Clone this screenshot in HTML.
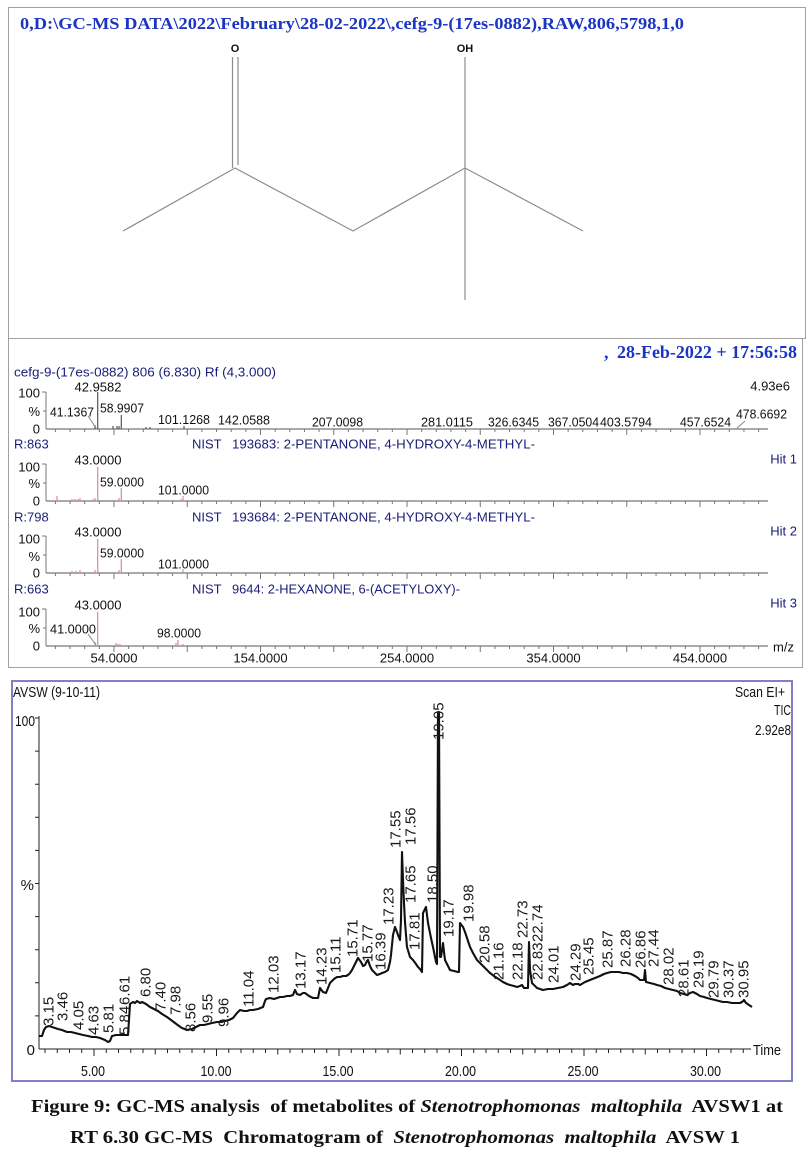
<!DOCTYPE html>
<html><head><meta charset="utf-8"><style>
html,body{margin:0;padding:0;background:#fff}
svg{display:block}
.s{font-family:"Liberation Sans",Arial,sans-serif}
.b{font-family:"Liberation Serif","Times New Roman",serif;font-weight:bold}
</style></head><body>
<svg width="811" height="1154" viewBox="0 0 811 1154" xmlns="http://www.w3.org/2000/svg">
<rect width="811" height="1154" fill="#fff"/>

<!-- ===== Panel 1: structure ===== -->
<rect x="8.5" y="7.5" width="797" height="331" fill="none" stroke="#a0a0a0" stroke-width="1"/>
<text class="b" x="20" y="29" font-size="17" fill="#1a35c4" textLength="664" lengthAdjust="spacingAndGlyphs">0,D:\GC-MS DATA\2022\February\28-02-2022\,cefg-9-(17es-0882),RAW,806,5798,1,0</text>
<g stroke="#8c8c8c" stroke-width="1.2" fill="none">
<line x1="232.5" y1="57" x2="232.5" y2="168"/>
<line x1="238" y1="57" x2="238" y2="165"/>
<polyline points="123,231 235,168 353,231 465,168 583,231"/>
<line x1="465" y1="57" x2="465" y2="300"/>
</g>
<text class="s" x="235" y="52" font-size="11" font-weight="bold" text-anchor="middle" fill="#111">O</text>
<text class="s" x="465" y="52" font-size="11" font-weight="bold" text-anchor="middle" fill="#111">OH</text>

<!-- ===== Panel 2: mass spectra ===== -->
<rect x="8.5" y="338.5" width="794" height="329" fill="none" stroke="#a0a0a0" stroke-width="1"/>
<text class="b" x="604" y="358" font-size="18" fill="#1a35c4">,</text>
<text class="b" x="617" y="358" font-size="18" fill="#1a35c4" textLength="180" lengthAdjust="spacingAndGlyphs">28-Feb-2022 + 17:56:58</text>

<defs>
<path id="tk" d="M55.4 0v3M70.05 0v3M84.7 0v3M99.35 0v3M114 0v6M128.65 0v3M143.3 0v3M157.95 0v3M172.6 0v3M187.25 0v6M201.9 0v3M216.55 0v3M231.2 0v3M245.85 0v3M260.5 0v6M275.15 0v3M289.8 0v3M304.45 0v3M319.1 0v3M333.75 0v6M348.4 0v3M363.05 0v3M377.7 0v3M392.35 0v3M407 0v6M421.65 0v3M436.3 0v3M450.95 0v3M465.6 0v3M480.25 0v6M494.9 0v3M509.55 0v3M524.2 0v3M538.85 0v3M553.5 0v6M568.15 0v3M582.8 0v3M597.45 0v3M612.1 0v3M626.75 0v6M641.4 0v3M656.05 0v3M670.7 0v3M685.35 0v3M700 0v6M714.65 0v3M729.3 0v3M743.95 0v3M758.6 0v3" stroke="#777" stroke-width="1" fill="none"/>
<g id="ax">
<line x1="46" y1="0" x2="768" y2="0" stroke="#777" stroke-width="1.2"/>
<line x1="46" y1="0" x2="46" y2="-37" stroke="#777" stroke-width="1"/>
<line x1="42" y1="-37" x2="46" y2="-37" stroke="#777" stroke-width="1"/>
<line x1="43" y1="-18" x2="46" y2="-18" stroke="#777" stroke-width="1"/>
<use href="#tk"/>
</g>
</defs>

<!-- spectrum 1 -->
<text class="s" x="14" y="376.5" font-size="13" fill="#1c1c78" textLength="262" lengthAdjust="spacingAndGlyphs">cefg-9-(17es-0882) 806 (6.830) Rf (4,3.000)</text>
<use href="#ax" y="429"/>
<g class="s" font-size="13" fill="#111">
<text x="40" y="397.5" text-anchor="end">100</text>
<text x="40" y="416" text-anchor="end">%</text>
<text x="40" y="433.5" text-anchor="end">0</text>
<text x="98" y="391.5" text-anchor="middle">42.9582</text>
<text x="50" y="416.5" textLength="44" lengthAdjust="spacingAndGlyphs">41.1367</text>
<text x="100" y="412.5" textLength="44" lengthAdjust="spacingAndGlyphs">58.9907</text>
<text x="158" y="424" textLength="52" lengthAdjust="spacingAndGlyphs">101.1268</text>
<text x="218" y="424.5" textLength="52" lengthAdjust="spacingAndGlyphs">142.0588</text>
<text x="312" y="426.5" textLength="51" lengthAdjust="spacingAndGlyphs">207.0098</text>
<text x="421" y="426.5" textLength="52" lengthAdjust="spacingAndGlyphs">281.0115</text>
<text x="488" y="426.5" textLength="51" lengthAdjust="spacingAndGlyphs">326.6345</text>
<text x="548" y="426.5" textLength="51" lengthAdjust="spacingAndGlyphs">367.0504</text>
<text x="600" y="426.5" textLength="52" lengthAdjust="spacingAndGlyphs">403.5794</text>
<text x="680" y="426.5" textLength="51" lengthAdjust="spacingAndGlyphs">457.6524</text>
<text x="736" y="418.5" textLength="51" lengthAdjust="spacingAndGlyphs">478.6692</text>
<text x="790" y="390.5" text-anchor="end">4.93e6</text>
</g>
<g stroke="#555" stroke-width="1.2">
<line x1="97.7" y1="429" x2="97.7" y2="392"/>
<line x1="95" y1="429" x2="95" y2="425"/>
<line x1="121.3" y1="429" x2="121.3" y2="415"/>
<line x1="113" y1="429" x2="113" y2="426"/>
<line x1="117" y1="429" x2="117" y2="426"/>
<line x1="119" y1="429" x2="119" y2="426"/>
<line x1="146" y1="429" x2="146" y2="427"/>
<line x1="150" y1="429" x2="150" y2="427"/>
<line x1="184" y1="429" x2="184" y2="426"/>
</g>
<line x1="88" y1="416" x2="96" y2="428" stroke="#888" stroke-width="1"/>
<line x1="745" y1="421" x2="737" y2="428" stroke="#888" stroke-width="1"/>

<!-- hits -->
<g class="s" font-size="13" fill="#1c1c78">
<text x="14" y="448.5">R:863</text>
<text x="192" y="448.5">NIST</text>
<text x="232" y="448.5" textLength="303" lengthAdjust="spacingAndGlyphs">193683: 2-PENTANONE, 4-HYDROXY-4-METHYL-</text>
<text x="797" y="463.5" text-anchor="end">Hit 1</text>
<text x="14" y="521.5">R:798</text>
<text x="192" y="521.5">NIST</text>
<text x="232" y="521.5" textLength="303" lengthAdjust="spacingAndGlyphs">193684: 2-PENTANONE, 4-HYDROXY-4-METHYL-</text>
<text x="797" y="535.5" text-anchor="end">Hit 2</text>
<text x="14" y="593.5">R:663</text>
<text x="192" y="593.5">NIST</text>
<text x="232" y="593.5" textLength="228" lengthAdjust="spacingAndGlyphs">9644: 2-HEXANONE, 6-(ACETYLOXY)-</text>
<text x="797" y="607.5" text-anchor="end">Hit 3</text>
</g>
<use href="#ax" y="501"/>
<use href="#ax" y="573"/>
<use href="#ax" y="646"/>
<g class="s" font-size="13" fill="#111">
<text x="40" y="471.5" text-anchor="end">100</text>
<text x="40" y="488" text-anchor="end">%</text>
<text x="40" y="505.5" text-anchor="end">0</text>
<text x="98" y="464.5" text-anchor="middle">43.0000</text>
<text x="100" y="486.5" textLength="44" lengthAdjust="spacingAndGlyphs">59.0000</text>
<text x="158" y="494.5" textLength="51" lengthAdjust="spacingAndGlyphs">101.0000</text>

<text x="40" y="543.5" text-anchor="end">100</text>
<text x="40" y="561" text-anchor="end">%</text>
<text x="40" y="577.5" text-anchor="end">0</text>
<text x="98" y="536.5" text-anchor="middle">43.0000</text>
<text x="100" y="557.5" textLength="44" lengthAdjust="spacingAndGlyphs">59.0000</text>
<text x="158" y="568.5" textLength="51" lengthAdjust="spacingAndGlyphs">101.0000</text>

<text x="40" y="616.5" text-anchor="end">100</text>
<text x="40" y="633" text-anchor="end">%</text>
<text x="40" y="650.5" text-anchor="end">0</text>
<text x="98" y="609.5" text-anchor="middle">43.0000</text>
<text x="50" y="633.5" textLength="46" lengthAdjust="spacingAndGlyphs">41.0000</text>
<text x="157" y="637.5" textLength="44" lengthAdjust="spacingAndGlyphs">98.0000</text>

<text x="114" y="662.5" text-anchor="middle">54.0000</text>
<text x="260.5" y="662.5" text-anchor="middle">154.0000</text>
<text x="407" y="662.5" text-anchor="middle">254.0000</text>
<text x="553.5" y="662.5" text-anchor="middle">354.0000</text>
<text x="700" y="662.5" text-anchor="middle">454.0000</text>
<text x="773" y="651.5">m/z</text>
</g>
<g stroke="#d98c8c" stroke-width="1.2">
<line x1="57" y1="501" x2="57" y2="496"/>
<line x1="72" y1="501" x2="72" y2="499"/>
<line x1="75" y1="501" x2="75" y2="499"/>
<line x1="78" y1="501" x2="78" y2="499"/>
<line x1="80" y1="501" x2="80" y2="498"/>
<line x1="93" y1="501" x2="93" y2="499"/>
<line x1="95" y1="501" x2="95" y2="498"/>
<line x1="97.7" y1="501" x2="97.7" y2="467"/>
<line x1="119" y1="501" x2="119" y2="498"/>
<line x1="121.3" y1="501" x2="121.3" y2="488"/>
<line x1="181" y1="501" x2="181" y2="499"/>
<line x1="183" y1="501" x2="183" y2="496"/>
<line x1="72" y1="573" x2="72" y2="571"/>
<line x1="76" y1="573" x2="76" y2="571"/>
<line x1="80" y1="573" x2="80" y2="570"/>
<line x1="95" y1="573" x2="95" y2="570"/>
<line x1="97.7" y1="573" x2="97.7" y2="539"/>
<line x1="119" y1="573" x2="119" y2="570"/>
<line x1="121.3" y1="573" x2="121.3" y2="559"/>
<line x1="160" y1="573" x2="160" y2="572"/>
<line x1="183" y1="573" x2="183" y2="569"/>
<line x1="95" y1="646" x2="95" y2="642"/>
<line x1="97.7" y1="646" x2="97.7" y2="612"/>
<line x1="116" y1="646" x2="116" y2="643"/>
<line x1="118" y1="646" x2="118" y2="644"/>
<line x1="120" y1="646" x2="120" y2="644"/>
<line x1="176" y1="646" x2="176" y2="643"/>
<line x1="178" y1="646" x2="178" y2="640"/>
<line x1="183" y1="646" x2="183" y2="644"/>
</g>
<line x1="88" y1="634" x2="96" y2="645" stroke="#888" stroke-width="1"/>

<!-- ===== Panel 3: chromatogram ===== -->
<rect x="12" y="681" width="780" height="400" fill="none" stroke="#8080c8" stroke-width="2"/>
<g class="s" font-size="15" fill="#111">
<text x="13" y="697" textLength="87" lengthAdjust="spacingAndGlyphs">AVSW (9-10-11)</text>
<text x="785" y="697" text-anchor="end" textLength="50" lengthAdjust="spacingAndGlyphs">Scan EI+</text>
<text x="791" y="715" text-anchor="end" textLength="17" lengthAdjust="spacingAndGlyphs">TIC</text>
<text x="791" y="735" text-anchor="end" textLength="36" lengthAdjust="spacingAndGlyphs">2.92e8</text>
<text x="35" y="726" text-anchor="end" textLength="20" lengthAdjust="spacingAndGlyphs">100</text>
<text x="34" y="890" text-anchor="end">%</text>
<text x="35" y="1055" text-anchor="end">0</text>
<text x="93" y="1076" text-anchor="middle" textLength="24" lengthAdjust="spacingAndGlyphs">5.00</text>
<text x="216" y="1076" text-anchor="middle" textLength="31" lengthAdjust="spacingAndGlyphs">10.00</text>
<text x="338" y="1076" text-anchor="middle" textLength="31" lengthAdjust="spacingAndGlyphs">15.00</text>
<text x="460.5" y="1076" text-anchor="middle" textLength="31" lengthAdjust="spacingAndGlyphs">20.00</text>
<text x="583" y="1076" text-anchor="middle" textLength="31" lengthAdjust="spacingAndGlyphs">25.00</text>
<text x="705.5" y="1076" text-anchor="middle" textLength="31" lengthAdjust="spacingAndGlyphs">30.00</text>
<text x="753" y="1055" textLength="28" lengthAdjust="spacingAndGlyphs">Time</text>
</g>
<g stroke="#222" stroke-width="1" fill="none">
<line x1="39" y1="716" x2="39" y2="1049"/>
<line x1="39" y1="1049" x2="751" y2="1049"/>
<path d="M35 718h4M35 751.1h4M35 784.2h4M35 817.3h4M35 850.4h4M35 883.5h4M35 916.6h4M35 949.7h4M35 982.8h4M35 1015.9h4"/>
<path d="M45 1049v4M57.25 1049v4M69.5 1049v4M81.75 1049v4M94 1049v7M106.25 1049v4M118.5 1049v4M130.75 1049v4M143 1049v4M155.25 1049v5.5M167.5 1049v4M179.75 1049v4M192 1049v4M204.25 1049v4M216.5 1049v7M228.75 1049v4M241 1049v4M253.25 1049v4M265.5 1049v4M277.75 1049v5.5M290 1049v4M302.25 1049v4M314.5 1049v4M326.75 1049v4M339 1049v7M351.25 1049v4M363.5 1049v4M375.75 1049v4M388 1049v4M400.25 1049v5.5M412.5 1049v4M424.75 1049v4M437 1049v4M449.25 1049v4M461.5 1049v7M473.75 1049v4M486 1049v4M498.25 1049v4M510.5 1049v4M522.75 1049v5.5M535 1049v4M547.25 1049v4M559.5 1049v4M571.75 1049v4M584 1049v7M596.25 1049v4M608.5 1049v4M620.75 1049v4M633 1049v4M645.25 1049v5.5M657.5 1049v4M669.75 1049v4M682 1049v4M694.25 1049v4M706.5 1049v7M718.75 1049v4M731 1049v4M743.25 1049v4"/>
</g>

<polyline fill="none" stroke="#111" stroke-width="2.1" stroke-linejoin="round" points="39,1036 42,1036 44,1030 46,1027 49,1026 52,1027 55,1028 58,1029 62,1030 67,1032 71,1032 75,1033 79,1034 83,1035 88,1036 92,1037 96,1037 100,1038 105,1040 108,1042 110,1041 112,1036 116,1035 122,1035 128,1035 129,1020 130,1004 133,1002 135,1003 137,1001 140,1003 142,1002 146,1004 150,1007 154,1009 158,1011 162,1014 167,1017 171,1020 175,1023 179,1026 182,1028 187,1030 192,1029 196,1027 200,1025 204,1025 208,1024 212,1023 217,1022 221,1022 225,1021 229,1020 233,1018 237,1013 240,1010 244,1011 247,1011 250,1010 253,1010 258,1009 263,1007 265,1001 266,999 270,998 274,999 277,998 280,997 283,997 287,996 290,996 293,995 295,990 297,994 300,995 303,993 305,993 309,996 313,998 316,998 318,998 320,988 323,992 326,993 328,988 330,983 334,979 337,977 340,977 343,976 346,976 348,975 350,973 352,970 355,964 357,960 358,958 361,962 363,966 365,965 367,961 368,960 370,966 372,970 375,973 377,975 380,974 382,973 385,972 388,970 390,962 391,955 393,935 395,927 397,932 398,935 400,940 401,920 402,852 403,880 404,903 405,922 406,935 407,947 410,957 413,960 416,964 418,967 420,969 422,972 423,913 426,907 428,923 431,938 433,947 435,957 436,962 437,964 438,712 439,712 440,957 441,957 443,943 444,952 445,960 448,966 450,970 454,971 458,972 459,972 460,923 463,927 465,932 467,938 470,947 473,953 477,960 480,963 484,967 487,970 490,973 494,976 497,978 500,980 503,982 507,984 510,985 514,986 517,987 520,986 522,985 524,988 527,988 528,988 529,942 530,970 532,983 535,986 537,988 540,989 543,990 548,989 553,989 558,988 563,987 567,985 570,983 573,985 575,984 578,984 580,985 585,982 590,980 595,978 600,976 604,974 607,973 611,972 615,972 619,972 623,973 627,973 631,974 635,976 638,978 640,980 644,980 645,970 646,982 650,983 654,984 657,985 661,986 665,988 669,989 673,990 677,991 680,993 684,994 687,995 690,993 693,992 697,994 700,996 704,997 707,998 711,999 715,1000 719,1001 723,1002 727,1002 732,1003 736,1003 740,1003 742,1002 744,1000 746,1003 749,1005 752,1007"/>

<!-- peak labels -->
<g class="s" font-size="15" fill="#1a1a1a">
<text transform="translate(53.3,1026) rotate(-90)">3.15</text>
<text transform="translate(67.3,1021) rotate(-90)">3.46</text>
<text transform="translate(83.3,1030) rotate(-90)">4.05</text>
<text transform="translate(98.3,1035) rotate(-90)">4.63</text>
<text transform="translate(113.3,1033) rotate(-90)">5.81</text>
<text transform="translate(129.3,1035) rotate(-90)">5.84</text>
<text transform="translate(129.3,1005) rotate(-90)">6.61</text>
<text transform="translate(150.3,997) rotate(-90)">6.80</text>
<text transform="translate(165.3,1011) rotate(-90)">7.40</text>
<text transform="translate(180.3,1015) rotate(-90)">7.98</text>
<text transform="translate(195.3,1032) rotate(-90)">8.56</text>
<text transform="translate(212.3,1023) rotate(-90)">9.55</text>
<text transform="translate(228.3,1027) rotate(-90)">9.96</text>
<text transform="translate(253.3,1007) rotate(-90)">11.04</text>
<text transform="translate(278.3,993) rotate(-90)">12.03</text>
<text transform="translate(305.3,989) rotate(-90)">13.17</text>
<text transform="translate(326.3,985) rotate(-90)">14.23</text>
<text transform="translate(340.3,973) rotate(-90)">15.11</text>
<text transform="translate(357.3,957) rotate(-90)">15.71</text>
<text transform="translate(372.3,962) rotate(-90)">15.77</text>
<text transform="translate(385.3,970) rotate(-90)">16.39</text>
<text transform="translate(393.3,925) rotate(-90)">17.23</text>
<text transform="translate(400.3,848) rotate(-90)">17.55</text>
<text transform="translate(415.3,845) rotate(-90)">17.56</text>
<text transform="translate(415.3,903) rotate(-90)">17.65</text>
<text transform="translate(419.3,950) rotate(-90)">17.81</text>
<text transform="translate(437.3,903) rotate(-90)">18.50</text>
<text transform="translate(443.3,740) rotate(-90)">19.05</text>
<text transform="translate(453.3,937) rotate(-90)">19.17</text>
<text transform="translate(473.3,922) rotate(-90)">19.98</text>
<text transform="translate(489.3,963) rotate(-90)">20.58</text>
<text transform="translate(503.3,980) rotate(-90)">21.16</text>
<text transform="translate(522.3,980) rotate(-90)">22.18</text>
<text transform="translate(527.3,938) rotate(-90)">22.73</text>
<text transform="translate(542.3,980) rotate(-90)">22.83</text>
<text transform="translate(542.3,942) rotate(-90)">22.74</text>
<text transform="translate(558.3,983) rotate(-90)">24.01</text>
<text transform="translate(580.3,981) rotate(-90)">24.29</text>
<text transform="translate(593.3,975) rotate(-90)">25.45</text>
<text transform="translate(612.3,968) rotate(-90)">25.87</text>
<text transform="translate(630.3,967) rotate(-90)">26.28</text>
<text transform="translate(645.3,968) rotate(-90)">26.86</text>
<text transform="translate(658.3,967) rotate(-90)">27.44</text>
<text transform="translate(673.3,985) rotate(-90)">28.02</text>
<text transform="translate(688.3,997) rotate(-90)">28.61</text>
<text transform="translate(703.3,988) rotate(-90)">29.19</text>
<text transform="translate(718.3,998) rotate(-90)">29.79</text>
<text transform="translate(733.3,998) rotate(-90)">30.37</text>
<text transform="translate(748.3,998) rotate(-90)">30.95</text>
</g>

<!-- ===== Caption ===== -->
<text class="b" x="31" y="1112" font-size="18" fill="#111" style="white-space:pre" textLength="752" lengthAdjust="spacingAndGlyphs">Figure 9: GC-MS analysis  of metabolites of <tspan font-style="italic">Stenotrophomonas  maltophila</tspan>  AVSW1 at</text>
<text class="b" x="70" y="1143" font-size="18" fill="#111" style="white-space:pre" textLength="670" lengthAdjust="spacingAndGlyphs">RT 6.30 GC-MS  Chromatogram of  <tspan font-style="italic">Stenotrophomonas  maltophila</tspan>  AVSW 1</text>
</svg>
</body></html>
